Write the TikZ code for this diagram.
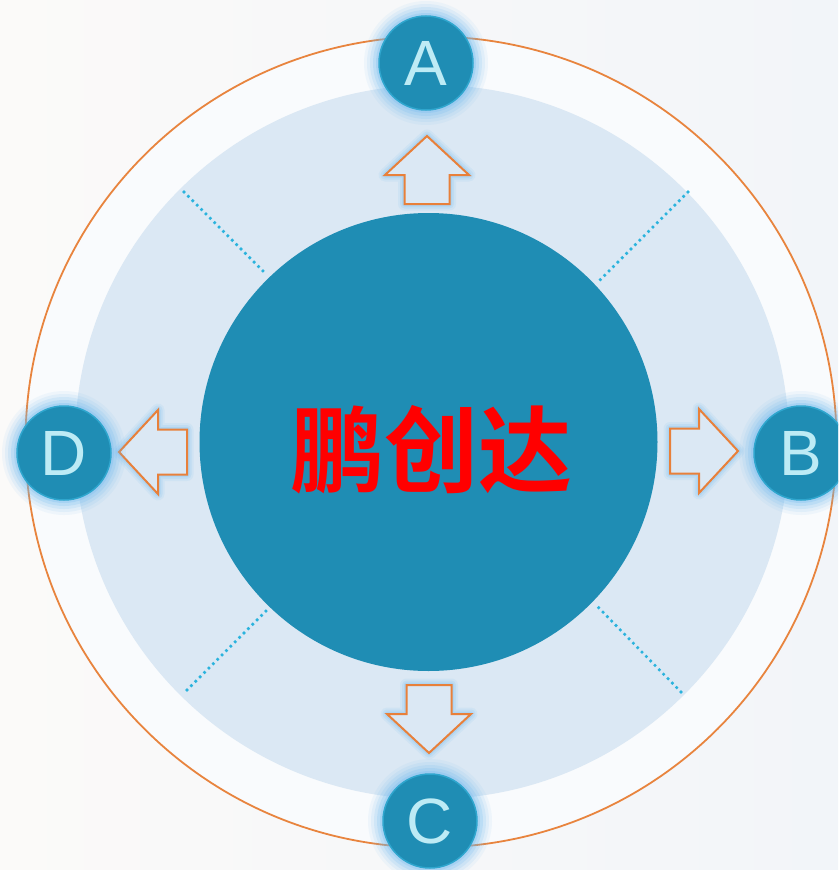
\documentclass[tikz,border=0pt]{standalone}
\usepackage{fontspec}
\setmainfont{Liberation Sans}
\newfontfamily\cjk{Noto Sans CJK SC}[BoldFont={Noto Sans CJK SC Bold}]
\definecolor{bgA}{HTML}{FBFAF9}
\definecolor{bgB}{HTML}{F2F5F9}
\definecolor{ringfill}{HTML}{F9FBFD}
\definecolor{ringorange}{HTML}{E8843E}
\definecolor{disc}{HTML}{DBE8F4}
\definecolor{core}{HTML}{1F8DB4}
\definecolor{bubbleedge}{HTML}{2FA6CE}
\definecolor{letter}{HTML}{BDEBF5}
\definecolor{glow}{HTML}{6FB9F0}
\definecolor{dots}{HTML}{2AB3DD}
\definecolor{arrowline}{HTML}{E8803A}
\tikzset{
  bubble/.style={circle, minimum size=94pt, inner sep=0pt, fill=core, draw=bubbleedge, line width=1.5pt,
     text=letter, font=\fontsize{64}{64}\selectfont},
  dotline/.style={draw=dots, line width=3.6pt, line cap=round, dash pattern=on 0pt off 6.2pt},
  pics/bigarrow/.style={code={
    \foreach \w/\o in {13/0.10, 9/0.15, 5/0.22}{
      \draw[glow, line width=\w pt, opacity=\o, line join=round]
        (0,0) -- (-39,-42) -- (-39,-22.5) -- (-68,-22.5) -- (-68,22.5) -- (-39,22.5) -- (-39,42) -- cycle;}
    \draw[fill=disc, draw=arrowline, line width=2pt, line join=miter]
      (0,0) -- (-39,-42) -- (-39,-22.5) -- (-68,-22.5) -- (-68,22.5) -- (-39,22.5) -- (-39,42) -- cycle;
  }}
}
\begin{document}
\begin{tikzpicture}[x=1pt, y=-1pt]
\useasboundingbox (0,0) rectangle (838,870);
\clip (0,0) rectangle (838,870);
\shade[left color=bgA, right color=bgB] (0,0) rectangle (838,870);
% outer orange ring
\node[circle, minimum size=811pt, inner sep=0pt, draw=ringorange, line width=1.8pt, fill=ringfill] (ring) at (431,442) {};
% light disc
\node[circle, minimum size=714pt, inner sep=0pt, fill=disc] (disc) at (432,442) {};
% dotted diagonals
\coordinate (tl1) at (184,192); \coordinate (tl2) at (266,274);
\coordinate (tr1) at (688,192); \coordinate (tr2) at (597,283);
\coordinate (bl1) at (187,690); \coordinate (bl2) at (268,609);
\coordinate (br1) at (681,692); \coordinate (br2) at (597,606);
\draw[dotline] (tl1) -- (tl2);
\draw[dotline] (tr1) -- (tr2);
\draw[dotline] (bl1) -- (bl2);
\draw[dotline] (br1) -- (br2);
% core
\node[circle, minimum size=458pt, inner sep=0pt, fill=core] (core) at (428.5,442) {};
\node[text=red, font=\cjk\bfseries\fontsize{94}{94}\selectfont] (title) at (431,450) {鹏创达};
% arrows
\pic[rotate=90] at (427,136) {bigarrow};
\pic[rotate=-90] at (429,753) {bigarrow};
\pic[rotate=180] at (119,452) {bigarrow};
\pic at (738,451) {bigarrow};
% glows for bubbles
\foreach \p in {(426,63),(801,453),(430,821),(64,453)}{
  \foreach \r/\o in {62/0.08, 59/0.11, 56/0.15, 53/0.2, 50/0.25}{
    \fill[glow, opacity=\o] \p circle (\r);
  }
}
\node[bubble] (A) at (426,63) {A};
\node[bubble] (B) at (801,453) {B};
\node[bubble] (C) at (430,821) {C};
\node[bubble] (D) at (64,453) {D};
\end{tikzpicture}
\end{document}
